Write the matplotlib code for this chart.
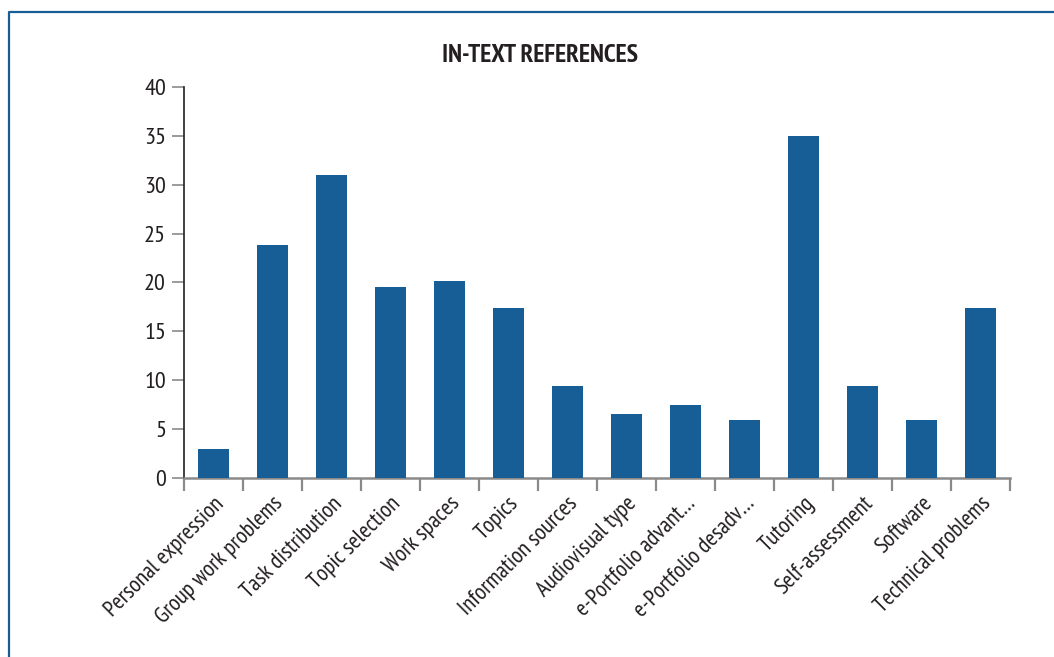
import matplotlib
matplotlib.use("Agg")
import matplotlib.pyplot as plt
from matplotlib.lines import Line2D
from matplotlib.ticker import FixedLocator

categories = ["Personal expression", "Group work problems", "Task distribution",
              "Topic selection", "Work spaces", "Topics", "Information sources",
              "Audiovisual type", "e-Portfolio advant\u2026", "e-Portfolio desadv\u2026",
              "Tutoring", "Self-assessment", "Software", "Technical problems"]
values = [3.0, 23.8, 31.0, 19.5, 20.2, 17.4, 9.4, 6.5, 7.5, 5.9, 35.0, 9.4, 5.9, 17.4]
yticks = [0, 5, 10, 15, 20, 25, 30, 35, 40]

BLEU = "#175d96"
INK = "#231f20"
GRIS = "#8a8a8a"

# police etroite, proche du Myriad Condensed de l'original
plt.rcParams["font.family"] = ["PT Sans Narrow", "DejaVu Sans"]

fig = plt.figure(figsize=(10.54, 6.57), dpi=100)
ax = fig.add_axes([0.1746, 0.2725, 0.9583 - 0.1746, 0.8676 - 0.2725])

x = range(len(categories))
ax.bar(x, values, width=0.53, color=BLEU, zorder=3)

ax.set_xlim(-0.5, len(categories) - 0.5)
ax.set_ylim(0, 40)
ax.set_yticks(yticks)
ax.tick_params(axis="y", direction="out", length=9, width=1.2, color=GRIS,
               labelsize=17.5, labelcolor=INK, pad=4)

# libelles au centre des barres, traits de graduation aux limites
ax.set_xticks(list(x))
ax.set_xticklabels(categories, rotation=45, ha="right", rotation_mode="anchor",
                   fontsize=16.5, color=INK)
ax.tick_params(axis="x", length=0, pad=11)
ax.xaxis.set_minor_locator(FixedLocator([i - 0.5 for i in range(len(categories) + 1)]))
ax.tick_params(axis="x", which="minor", direction="out", length=9, width=1.6, color=GRIS)

for s in ("top", "right"):
    ax.spines[s].set_visible(False)
ax.spines["left"].set_color(INK)
ax.spines["left"].set_linewidth(1.2)
ax.spines["bottom"].set_color(GRIS)
ax.spines["bottom"].set_linewidth(1.8)

fig.text(0.512, 0.916, "IN-TEXT REFERENCES", ha="center", va="center",
         fontsize=18.5, fontweight="bold", color=INK)

# cadre ouvert : bords gauche et haut seulement
fig.add_artist(Line2D([9 / 1054, 9 / 1054, 1.0], [0.0, 1 - 12 / 657, 1 - 12 / 657],
                      transform=fig.transFigure, color=BLEU, linewidth=1.6))

fig.savefig("out.png", dpi=100, facecolor="white")
